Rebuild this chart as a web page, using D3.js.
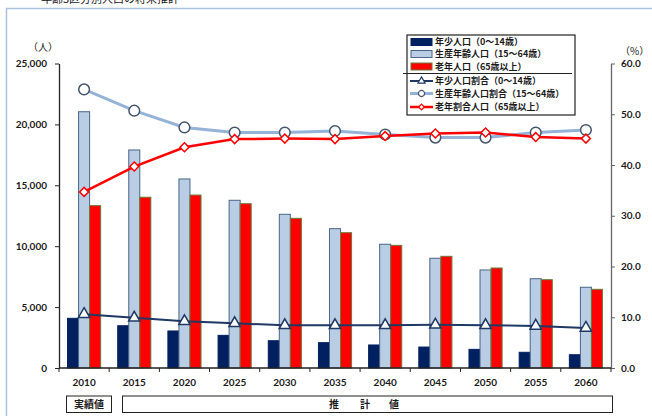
<!DOCTYPE html>
<html>
<head>
<meta charset="utf-8">
<script src="https://cdn.jsdelivr.net/npm/d3@7"></script>
<style>
  html, body { margin: 0; padding: 0; background: #fff; }
  svg { display: block; }
  .num { font-family: Lato, "Liberation Sans", sans-serif; font-weight: 700; font-size: 10px; fill: #1a1a1a; }
  .jp { font-family: "Noto Sans CJK JP", sans-serif; fill: #1a1a1a; }
</style>
</head>
<body>
<svg id="chart" width="652" height="416"></svg>
<script>
// Projected population by age group (people) and share of total (%)
const years = ["2010", "2015", "2020", "2025", "2030", "2035", "2040", "2045", "2050", "2055", "2060"];
const youngPop   = [4080, 3470, 3040, 2680, 2240, 2080, 1890, 1720, 1530, 1290, 1090];
const workingPop = [21040, 17900, 15520, 13770, 12620, 11440, 10160, 9010, 8050, 7330, 6630];
const elderlyPop = [13330, 14020, 14200, 13490, 12290, 11110, 10070, 9170, 8210, 7250, 6460];
const youngPct   = [10.6, 9.9, 9.2, 8.8, 8.4, 8.4, 8.4, 8.5, 8.4, 8.3, 7.9];
const workingPct = [54.9, 50.7, 47.4, 46.4, 46.4, 46.7, 46.0, 45.4, 45.4, 46.4, 46.9];
const elderlyPct = [34.7, 39.7, 43.5, 45.1, 45.2, 45.1, 45.7, 46.2, 46.4, 45.5, 45.2];
const leftTicks  = [0, 5000, 10000, 15000, 20000, 25000];
const rightTicks = [0, 10, 20, 30, 40, 50, 60];

const svg = d3.select("#chart");

// outer frame
svg.append("rect")
  .attr("x", 6.5).attr("y", 8.5).attr("width", 700).attr("height", 500)
  .attr("fill", "none").attr("stroke", "#a9c1e0").attr("stroke-width", 1.5);

// section heading (partly above the frame)
svg.append("text").attr("class", "jp")
  .attr("x", 30).attr("y", 3).attr("font-size", 11).attr("fill", "#555")
  .text("・年齢3区分別人口の将来推計");

const plotL = 59, plotR = 611, plotT = 63.5, plotB = 368;
const x = d3.scaleBand().domain(years).range([plotL, plotR]);
const yL = d3.scaleLinear().domain([0, 25000]).range([plotB, plotT]);
const yR = d3.scaleLinear().domain([0, 60]).range([plotB, plotT]);

const bw = x.bandwidth() * 0.22;
const cx = d => x(d) + x.bandwidth() / 2;

// bars
const barSeries = [
  { vals: youngPop,   off: -1.5, fill: "#002060", stroke: "#002060" },
  { vals: workingPop, off: -0.5, fill: "#b9cde5", stroke: "#4a6587" },
  { vals: elderlyPop, off:  0.5, fill: "#ff0000", stroke: "#6b7a3a" }
];
barSeries.forEach(s => {
  svg.append("g").selectAll("rect").data(years).join("rect")
    .attr("x", (d) => cx(d) + s.off * bw)
    .attr("y", (d, i) => yL(s.vals[i]))
    .attr("width", bw)
    .attr("height", (d, i) => plotB - yL(s.vals[i]))
    .attr("fill", s.fill)
    .attr("stroke", s.stroke).attr("stroke-width", 1);
});

// axes
const axL = svg.append("g").attr("transform", `translate(${plotL},0)`)
  .call(d3.axisLeft(yL).tickValues(leftTicks).tickSize(4).tickSizeOuter(0).tickPadding(8)
    .tickFormat(d3.format(",")));
axL.attr("font-size", null).attr("font-family", null);
axL.select(".domain").attr("stroke", "#222").attr("stroke-width", 1.3);
axL.selectAll(".tick line").attr("stroke", "#222");
axL.selectAll("text").attr("class", "num");

const axR = svg.append("g").attr("transform", `translate(${plotR},0)`)
  .call(d3.axisRight(yR).tickValues(rightTicks).tickSize(4).tickSizeOuter(0).tickPadding(6)
    .tickFormat(d3.format(".1f")));
axR.attr("font-size", null).attr("font-family", null);
axR.select(".domain").attr("stroke", "#666").attr("stroke-width", 1.3);
axR.selectAll(".tick line").attr("stroke", "#666");
axR.selectAll("text").attr("class", "num");

// category axis with ticks between groups
const xb = svg.append("g");
xb.append("line").attr("x1", plotL).attr("x2", plotR).attr("y1", plotB).attr("y2", plotB)
  .attr("stroke", "#222").attr("stroke-width", 1.3);
xb.selectAll("line.tk").data(years.concat(["end"])).join("line").attr("class", "tk")
  .attr("x1", (d) => d === "end" ? plotR : x(d))
  .attr("x2", (d) => d === "end" ? plotR : x(d))
  .attr("y1", plotB).attr("y2", plotB + 4).attr("stroke", "#222");
xb.selectAll("text").data(years).join("text").attr("class", "num")
  .attr("x", cx).attr("y", 386).attr("text-anchor", "middle").text(d => d);

svg.append("text").attr("class", "jp").attr("x", 28).attr("y", 51).attr("font-size", 10).text("（人）");
svg.append("text").attr("class", "jp").attr("x", 620).attr("y", 55).attr("font-size", 10).text("（%）");

// ratio lines
const marker = {
  triangle: d3.symbol().type(d3.symbolTriangle).size(55),
  circle: d3.symbol().type(d3.symbolCircle).size(90),
  diamond: d3.symbol().type(d3.symbolSquare).size(40)
};
const lineSeries = [
  { vals: workingPct, color: "#95b3d7", width: 3, mk: "circle", mkStroke: "#44546a", rot: 0 },
  { vals: elderlyPct, color: "#ff0000", width: 2.5, mk: "diamond", mkStroke: "#ff0000", rot: 45 },
  { vals: youngPct, color: "#1f3864", width: 2, mk: "triangle", mkStroke: "#1f3864", rot: 0 }
];
lineSeries.forEach(s => {
  const line = d3.line().x(d => cx(d)).y((d, i) => yR(s.vals[i]));
  svg.append("path").datum(years).attr("d", line)
    .attr("fill", "none").attr("stroke", s.color).attr("stroke-width", s.width);
  svg.append("g").selectAll("path").data(years).join("path")
    .attr("d", marker[s.mk])
    .attr("transform", (d, i) => `translate(${cx(d)},${yR(s.vals[i])}) rotate(${s.rot})`)
    .attr("fill", "#fff").attr("stroke", s.mkStroke).attr("stroke-width", 1.5);
});

// legend
const lg = svg.append("g");
lg.append("rect").attr("x", 407).attr("y", 35).attr("width", 168).attr("height", 80)
  .attr("fill", "#fff").attr("stroke", "#222").attr("stroke-width", 1.2);
lg.append("line").attr("x1", 403).attr("x2", 572).attr("y1", 73.5).attr("y2", 73.5)
  .attr("stroke", "#222").attr("stroke-width", 1.2);
const legendItems = [
  { label: "年少人口（0～14歳）", y: 42, bar: barSeries[0] },
  { label: "生産年齢人口（15～64歳）", y: 54, bar: barSeries[1] },
  { label: "老年人口（65歳以上）", y: 66.5, bar: barSeries[2] },
  { label: "年少人口割合（0～14歳）", y: 81, line: lineSeries[2] },
  { label: "生産年齢人口割合（15～64歳）", y: 93.5, line: lineSeries[0] },
  { label: "老年割合人口（65歳以上）", y: 107, line: lineSeries[1] }
];
legendItems.forEach(it => {
  if (it.bar) {
    lg.append("rect").attr("x", 411).attr("y", it.y - 3.5).attr("width", 21).attr("height", 7)
      .attr("fill", it.bar.fill).attr("stroke", it.bar.stroke);
  } else {
    const s = it.line;
    lg.append("line").attr("x1", 410).attr("x2", 433).attr("y1", it.y).attr("y2", it.y)
      .attr("stroke", s.color).attr("stroke-width", s.width);
    lg.append("path").attr("d", d3.symbol().type(
        s.mk === "circle" ? d3.symbolCircle : s.mk === "diamond" ? d3.symbolSquare : d3.symbolTriangle
      ).size(s.mk === "circle" ? 30 : s.mk === "diamond" ? 16 : 22))
      .attr("transform", `translate(421.5,${it.y}) rotate(${s.rot})`)
      .attr("fill", "#fff").attr("stroke", s.mkStroke).attr("stroke-width", 1.2);
  }
  lg.append("text").attr("class", "jp").attr("x", 435).attr("y", it.y + 3.2)
    .attr("font-size", 9).attr("font-weight", 700).text(it.label);
});

// actual / projected labels under the axis
const foot = svg.append("g");
foot.append("rect").attr("x", 66.5).attr("y", 396).attr("width", 45).attr("height", 16.5)
  .attr("fill", "#fff").attr("stroke", "#222");
foot.append("text").attr("class", "jp").attr("x", 89).attr("y", 408).attr("text-anchor", "middle")
  .attr("font-size", 10).attr("font-weight", 700).text("実績値");
foot.append("rect").attr("x", 122.5).attr("y", 396).attr("width", 490).attr("height", 16.5)
  .attr("fill", "#fff").attr("stroke", "#222");
[["推", 334], ["計", 365], ["値", 394]].forEach(([t, px]) => {
  foot.append("text").attr("class", "jp").attr("x", px).attr("y", 408).attr("text-anchor", "middle")
    .attr("font-size", 10).attr("font-weight", 700).text(t);
});
</script>
</body>
</html>
